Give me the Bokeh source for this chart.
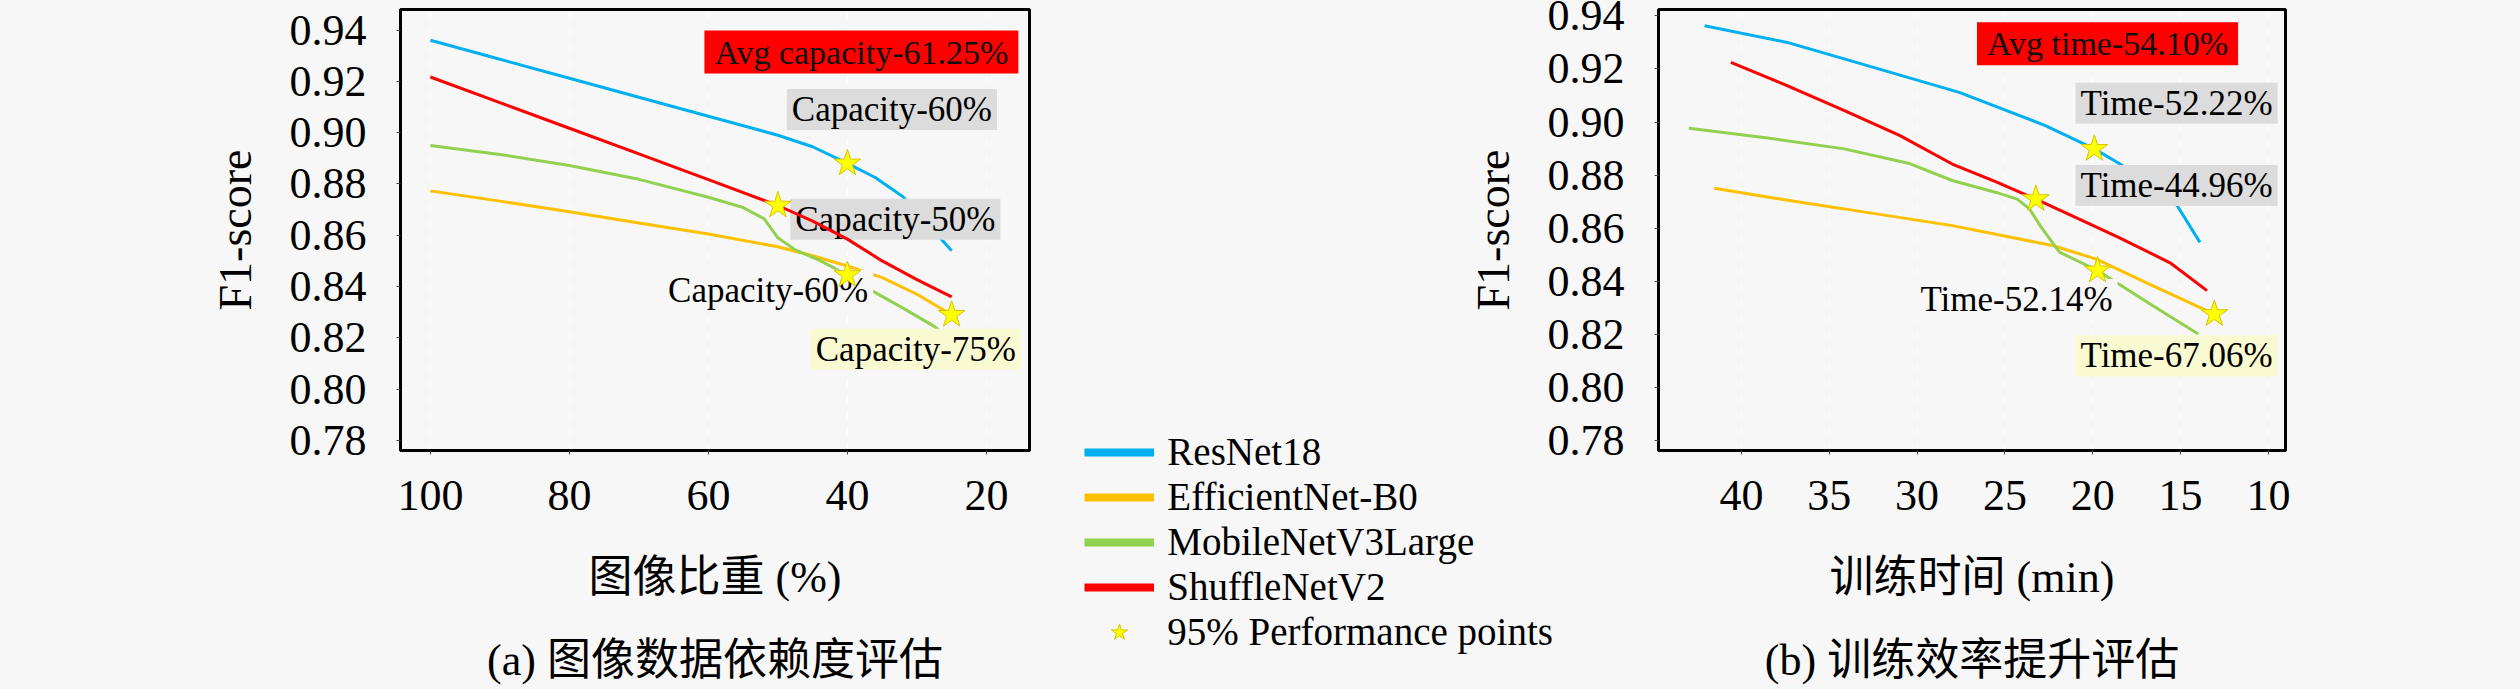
from bokeh.plotting import figure
from bokeh.models import (Range1d, Label, Legend, LegendItem, Title, FixedTicker,
                          NumeralTickFormatter, GridBox)
from bokeh.embed import file_html
from bokeh.resources import INLINE

# ---------------- data ----------------
models = ["ResNet18", "EfficientNet-B0", "MobileNetV3Large", "ShuffleNetV2"]
colors = ["#00b0f0", "#ffc000", "#92d050", "#ff0000"]

# (a) image proportion (%) vs F1-score
cap_resnet_x = [100, 90, 80, 70, 60, 50, 45, 40, 36, 32, 28, 25]
cap_resnet_y = [0.936, 0.9286, 0.9212, 0.9138, 0.9064, 0.899, 0.8945, 0.888, 0.8825, 0.875, 0.863, 0.854]
cap_effnet_x = [100, 90, 80, 70, 60, 50, 45, 40, 35, 30, 25]
cap_effnet_y = [0.8773, 0.8733, 0.8692, 0.8648, 0.8605, 0.8555, 0.852, 0.848, 0.8435, 0.837, 0.829]
cap_mobile_x = [100, 90, 80, 70, 60, 55, 52, 50, 47.5, 44, 40, 37, 32, 27.5, 25]
cap_mobile_y = [0.895, 0.8915, 0.8872, 0.8818, 0.8748, 0.8708, 0.8665, 0.859, 0.8543, 0.8502, 0.8445, 0.8392, 0.8316, 0.8245, 0.819]
cap_shuffle_x = [100, 90, 80, 70, 60, 50, 45, 40, 35, 30, 25]
cap_shuffle_y = [0.9217, 0.9117, 0.9017, 0.8917, 0.8817, 0.8716, 0.8655, 0.8585, 0.850, 0.8427, 0.836]
cap_star_x = [40, 25, 40, 50]
cap_star_y = [0.888, 0.829, 0.8445, 0.8716]
cap_labels = ["Capacity-60%", "Capacity-75%", "Capacity-60%", "Capacity-50%"]
cap_avg = "Avg capacity-61.25%"
cap_ticks = [100, 80, 60, 40, 20]

# (b) training time (min) vs F1-score
time_resnet_x = [42.1, 37.4, 34.15, 27.6, 22.7, 19.91, 18.45, 15.2, 13.9]
time_resnet_y = [0.9363, 0.930, 0.9238, 0.9112, 0.8987, 0.8899, 0.8842, 0.8686, 0.8547]
time_effnet_x = [41.55, 38.0, 34.15, 28.0, 22.3, 19.8, 16.6, 13.08]
time_effnet_y = [0.8751, 0.8712, 0.8673, 0.861, 0.8535, 0.8484, 0.8384, 0.8277]
time_mobile_x = [43.0, 38.5, 34.15, 30.5, 28.0, 25.5, 24.3, 23.6, 23.0, 21.9, 19.73, 16.6, 14.0]
time_mobile_y = [0.8977, 0.894, 0.8899, 0.8845, 0.878, 0.8735, 0.871, 0.8673, 0.861, 0.851, 0.8441, 0.8309, 0.8202]
time_shuffle_x = [40.6, 37.5, 34.2, 31.0, 28.0, 25.5, 23.24, 20.8, 18.5, 15.6, 13.5]
time_shuffle_y = [0.9225, 0.914, 0.9045, 0.895, 0.8842, 0.8775, 0.871, 0.8635, 0.8565, 0.847, 0.8365]
time_star_x = [19.91, 13.08, 19.73, 23.24]
time_star_y = [0.8899, 0.8277, 0.8441, 0.871]
time_labels = ["Time-52.22%", "Time-67.06%", "Time-52.14%", "Time-44.96%"]
time_avg = "Avg time-54.10%"
time_ticks = [40, 35, 30, 25, 20, 15, 10]

f1_ticks = [0.78, 0.80, 0.82, 0.84, 0.86, 0.88, 0.90, 0.92, 0.94]
star_legend_label = "95% Performance points"

# ---------------- layout / style (not data) ----------------
BG = "#f7f7f7"
SERIF = "Liberation Serif"
MIX = "Liberation Serif, Noto Sans CJK SC"
label_fill = ["#dcdcdc", "#fafad2", BG, "#dcdcdc"]
cap_label_pos = [(33.6, 0.909), (30.15, 0.8156), (51.4, 0.8386), (33.1, 0.8662)]
cap_avg_pos = (37.99, 0.9314)
time_label_pos = [(15.23, 0.9071), (15.23, 0.812), (24.34, 0.8332), (15.23, 0.8761)]
time_avg_pos = (19.16, 0.9295)


def make_fig(xr, yr, fw, fh, left, right, top, bottom, xticks, xlabel, caption):
    p = figure(frame_width=fw, frame_height=fh, x_range=Range1d(*xr), y_range=Range1d(*yr),
               min_border_left=left, min_border_right=right, min_border_top=top,
               min_border_bottom=bottom, output_backend="svg", toolbar_location=None,
               background_fill_color=BG, background_fill_alpha=0,
               border_fill_color=BG, border_fill_alpha=0)
    p.outline_line_color = "black"
    p.outline_line_width = 3
    p.ygrid.grid_line_color = None
    p.xgrid.grid_line_color = "white"
    p.xgrid.grid_line_dash = "6 10"
    p.xaxis.ticker = FixedTicker(ticks=xticks)
    p.yaxis.ticker = FixedTicker(ticks=f1_ticks)
    p.yaxis.formatter = NumeralTickFormatter(format="0.00")
    for ax in (p.xaxis, p.yaxis):
        ax.axis_line_color = "black"
        ax.axis_line_width = 3
        ax.major_tick_in = 0
        ax.major_tick_out = 4
        ax.major_tick_line_color = "#444444"
        ax.minor_tick_line_color = None
        ax.major_label_text_font = SERIF
        ax.major_label_text_font_size = "44px"
        ax.major_label_text_color = "black"
        ax.axis_label_text_font_style = "normal"
        ax.axis_label_text_color = "black"
    p.xaxis.major_label_standoff = 26
    p.yaxis.major_label_standoff = 30
    p.xaxis.axis_label = xlabel
    p.xaxis.axis_label_text_font = MIX
    p.xaxis.axis_label_text_font_size = "44px"
    p.xaxis.axis_label_standoff = 40
    p.yaxis.axis_label = "F1-score"
    p.yaxis.axis_label_text_font = SERIF
    p.yaxis.axis_label_text_font_size = "46px"
    p.yaxis.axis_label_standoff = 26
    p.add_layout(Title(text=caption, align="center", text_font=MIX, text_font_size="44px",
                       text_font_style="normal", text_color="black", standoff=59), "below")
    return p


def add_series(p, xs, ys, sx, sy, labels, lpos, avg, apos):
    for i, (x, y) in enumerate(zip(xs, ys)):
        r = p.line(x, y, line_color=colors[i], line_width=3)
        if i == 3:
            r.level = "overlay"
    for i, (t, (lx, ly)) in enumerate(zip(labels, lpos)):
        p.add_layout(Label(x=lx, y=ly, text=t, text_font=SERIF, text_font_size="35px",
                           text_align="center", text_baseline="middle", text_color="black",
                           background_fill_color=label_fill[i], background_fill_alpha=1.0,
                           padding=dict(x=5, y=1)))
    p.add_layout(Label(x=apos[0], y=apos[1], text=avg, text_font=SERIF, text_font_size="34px",
                       text_align="center", text_baseline="middle", text_color="#111111",
                       background_fill_color="#ff0000", background_fill_alpha=1.0,
                       padding=dict(x=10, y=3)))
    s = p.scatter(sx, sy, marker="star", size=28, fill_color="#ffff00",
                  line_color="#d4c400", line_width=1)
    s.level = "overlay"


p1 = make_fig((104.3, 13.8), (0.7761, 0.948), 629, 441, 400, 48, 9, 224,
              cap_ticks, "图像比重 (%)", "(a) 图像数据依赖度评估")
add_series(p1, [cap_resnet_x, cap_effnet_x, cap_mobile_x, cap_shuffle_x],
           [cap_resnet_y, cap_effnet_y, cap_mobile_y, cap_shuffle_y],
           cap_star_x, cap_star_y, cap_labels, cap_label_pos, cap_avg, cap_avg_pos)

p2 = make_fig((44.72, 9.03), (0.7763, 0.9424), 627, 441, 581, 20, 9, 223,
              time_ticks, "训练时间 (min)", "(b) 训练效率提升评估")
add_series(p2, [time_resnet_x, time_effnet_x, time_mobile_x, time_shuffle_x],
           [time_resnet_y, time_effnet_y, time_mobile_y, time_shuffle_y],
           time_star_x, time_star_y, time_labels, time_label_pos, time_avg, time_avg_pos)

# transparent overlay figure carrying the shared legend; its frame ends where the legend ends
leg = figure(frame_width=559, frame_height=645, min_border_left=22, min_border_top=9,
             min_border_right=0, min_border_bottom=0, x_range=Range1d(0, 1),
             y_range=Range1d(0, 1), x_axis_location=None, y_axis_location=None,
             output_backend="svg", toolbar_location=None,
             background_fill_alpha=0, border_fill_alpha=0, outline_line_color=None)
leg.grid.visible = False
items = []
for m, c in zip(models, colors):
    # kept outside the (0, 1) view so only the legend swatch shows
    r = leg.line(x=[5, 6], y=[5, 6], line_color=c, line_width=8)
    items.append(LegendItem(label=m, renderers=[r]))
rs = leg.scatter(x=[5], y=[5], marker="star", size=15, fill_color="#ffff00",
                 line_color="#d4c400", line_width=1)
items.append(LegendItem(label=star_legend_label, renderers=[rs]))
legend = Legend(items=items, location="bottom_left", glyph_width=70, glyph_height=42,
                label_height=42, label_standoff=13, spacing=0, padding=0, margin=0,
                border_line_color=None, background_fill_alpha=0,
                label_text_font=SERIF, label_text_font_size="39px",
                label_text_line_height=0.9, label_text_color="black")
leg.add_layout(legend)

layout = GridBox(children=[(p1, 0, 0), (p2, 0, 1), (leg, 0, 1)], spacing=0)
html = file_html(layout, INLINE)
style = "<style>html, body { background-color: #f7f7f7; overflow: hidden; }</style>"
html = html.replace("</head>", style + "</head>", 1)
open("out.html", "w").write(html)
